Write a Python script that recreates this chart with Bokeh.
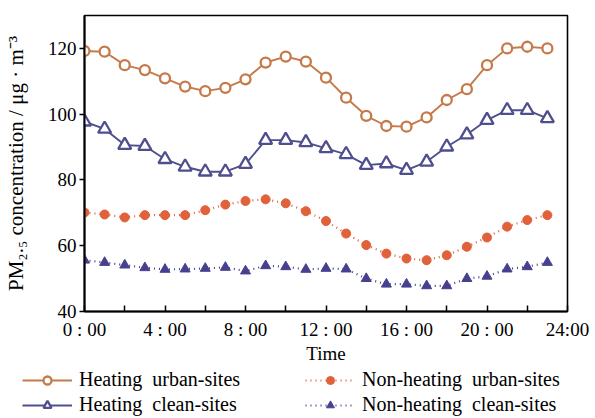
from bokeh.plotting import figure
from bokeh.layouts import column
from bokeh.models import Range1d, FixedTicker, Legend, LegendItem, ColumnDataSource
from bokeh.embed import file_html
from bokeh.resources import INLINE

# Hourly mean PM2.5 (µg/m³), hour 0..23
hours = list(range(24))
heating_urban = [119.2, 119.0, 114.9, 113.4, 110.9, 108.4, 107.0, 108.0, 110.6, 115.7, 117.5, 116.0,
                 111.1, 105.0, 99.5, 96.4, 96.2, 99.0, 104.3, 107.6, 114.9, 120.0, 120.5, 120.0]
heating_clean = [97.7, 95.5, 90.6, 90.3, 86.3, 84.0, 82.5, 82.5, 84.8, 92.1, 92.1, 91.4,
                 89.6, 87.8, 84.5, 85.0, 83.0, 85.5, 90.1, 93.8, 98.2, 101.2, 101.2, 98.7]
nonheating_urban = [70.1, 69.5, 68.6, 69.3, 69.3, 69.3, 70.8, 72.5, 73.6, 74.1, 72.9, 70.5,
                    67.5, 63.7, 60.2, 57.6, 56.1, 55.6, 57.1, 59.7, 62.5, 65.8, 67.8, 69.3]
nonheating_clean = [55.6, 54.9, 54.1, 53.3, 52.8, 52.9, 53.1, 53.4, 52.3, 53.9, 53.6, 52.8,
                    53.1, 52.9, 50.0, 48.3, 48.3, 47.8, 47.8, 50.0, 50.7, 52.9, 53.6, 54.9]

series_labels = ["Heating  urban-sites", "Heating  clean-sites",
                 "Non-heating  urban-sites", "Non-heating  clean-sites"]

major_ticks = [0, 4, 8, 12, 16, 20, 24]
minor_ticks = [2, 6, 10, 14, 18, 22]
tick_labels = ["0 : 00", "4 : 00", "8 : 00", "12 : 00", "16 : 00", "20 : 00", "24:00"]
y_ticks = [40, 60, 80, 100, 120]

FONT = "Liberation Serif"
C_URBAN = "#c67a4a"
C_URBAN_NH = "#e0613a"
C_CLEAN = "#4f4f8e"
C_CLEAN_NH = "#47408f"

source = ColumnDataSource(dict(hour=hours, hu=heating_urban, hc=heating_clean,
                               nu=nonheating_urban, nc=nonheating_clean))


def draw_series(fig):
    """Draw the four diurnal curves on fig; returns (line, marker) pairs in legend order."""
    l1 = fig.line("hour", "hu", source=source, line_color=C_URBAN, line_width=1.9)
    m1 = fig.scatter("hour", "hu", source=source, marker="circle", size=10, fill_color="white",
                     line_color=C_URBAN, line_width=2.3)
    l2 = fig.line("hour", "hc", source=source, line_color=C_CLEAN, line_width=1.9)
    m2 = fig.scatter("hour", "hc", source=source, marker="triangle", size=13, fill_color="white",
                     line_color=C_CLEAN, line_width=2.3)
    l3 = fig.line("hour", "nu", source=source, line_color=C_URBAN_NH, line_width=2.2, line_dash="1 4")
    m3 = fig.scatter("hour", "nu", source=source, marker="circle", size=9, fill_color=C_URBAN_NH,
                     line_color=C_URBAN_NH, line_width=1)
    l4 = fig.line("hour", "nc", source=source, line_color=C_CLEAN_NH, line_width=2.2, line_dash="1 4")
    m4 = fig.scatter("hour", "nc", source=source, marker="triangle", size=10, fill_color=C_CLEAN_NH,
                     line_color=C_CLEAN_NH, line_width=1)
    return [(l1, m1), (l2, m2), (l3, m3), (l4, m4)]


# ---- main chart ----
p = figure(width=595, height=366, output_backend="svg", toolbar_location=None,
           x_range=Range1d(0, 24), y_range=Range1d(40, 130),
           min_border_left=82, min_border_right=28, min_border_top=15, min_border_bottom=53)
p.background_fill_color = "white"
p.border_fill_color = "white"
p.grid.visible = False
p.outline_line_color = "black"
p.outline_line_width = 1.6

xa = p.xaxis[0]
xa.ticker = FixedTicker(ticks=major_ticks, minor_ticks=minor_ticks)
xa.major_label_overrides = {t: s for t, s in zip(major_ticks, tick_labels)}
xa.major_tick_in = 6
xa.major_tick_out = 0
xa.minor_tick_in = 6
xa.minor_tick_out = 0
xa.major_tick_line_width = 1.5
xa.minor_tick_line_width = 1.5
xa.axis_line_width = 2
xa.major_label_text_font = FONT
xa.major_label_text_font_size = "19px"
xa.major_label_text_color = "black"
xa.major_label_standoff = 7
xa.axis_label = "Time"
xa.axis_label_text_font = FONT
xa.axis_label_text_font_size = "19px"
xa.axis_label_text_font_style = "normal"
xa.axis_label_text_color = "black"
xa.axis_label_standoff = 0

ya = p.yaxis[0]
ya.ticker = FixedTicker(ticks=y_ticks, minor_ticks=[])
ya.major_tick_in = 0
ya.major_tick_out = 5
ya.major_tick_line_width = 1.5
ya.axis_line_width = 2
ya.major_label_text_font = FONT
ya.major_label_text_font_size = "19px"
ya.major_label_text_color = "black"
ya.major_label_standoff = 3
ya.axis_label = "PM₂.₅ concentration / μg · m⁻³"
ya.axis_label_text_font = FONT
ya.axis_label_text_font_size = "21px"
ya.axis_label_text_font_style = "normal"
ya.axis_label_text_color = "black"
ya.axis_label_standoff = 17

draw_series(p)

# ---- legend strip under the chart ----
leg = figure(width=595, height=52, output_backend="svg", toolbar_location=None,
             x_range=Range1d(-1000, -999), y_range=Range1d(-1000, -999),
             x_axis_location=None, y_axis_location=None,
             min_border_left=0, min_border_right=0, min_border_top=0, min_border_bottom=0)
leg.frame_align = False
leg.grid.visible = False
leg.outline_line_color = None
leg.background_fill_color = "white"
leg.border_fill_color = "white"

pairs = draw_series(leg)
legend = Legend(
    items=[LegendItem(label=lab, renderers=list(r)) for lab, r in zip(series_labels, pairs)],
    ncols=2,
    location=(20, 0),
    background_fill_alpha=0,
    border_line_alpha=0,
    label_text_font=FONT,
    label_text_font_size="20px",
    label_text_color="black",
    glyph_width=50,
    glyph_height=20,
    label_height=20,
    label_width=224,
    label_standoff=7,
    spacing=2,
    padding=2,
    margin=0,
)
leg.add_layout(legend, "center")

layout = column(p, leg, spacing=0)
open("out.html", "w").write(file_html(layout, INLINE))
